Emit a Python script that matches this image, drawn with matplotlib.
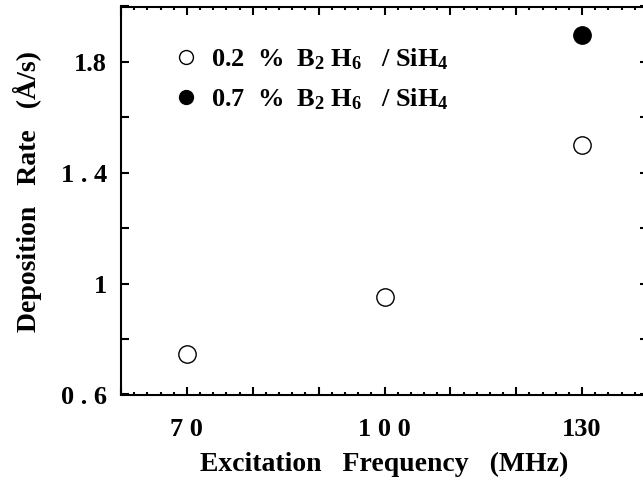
import matplotlib
matplotlib.use('Agg')
import matplotlib.pyplot as plt
from matplotlib.ticker import MultipleLocator

plt.rcParams['font.family'] = 'Liberation Serif'
plt.rcParams['font.weight'] = 'bold'
plt.rcParams['axes.labelweight'] = 'bold'
plt.rcParams['mathtext.default'] = 'regular'

# data
freq_02 = [70, 100, 130]
rate_02 = [0.745, 0.953, 1.50]
freq_07 = [130]
rate_07 = [1.897]

yticks = [0.6, 1.0, 1.4, 1.8]
ytick_labels = ['0 . 6', '1', '1 . 4', '1.8']
xticks = [70, 100, 130]
xtick_labels = ['7 0', '1 0 0', '130']

fig = plt.figure(figsize=(6.43, 4.82), dpi=100)
# right spine sits just past the picture edge, as in the original
ax = fig.add_axes([121/643, 87.5/482, 527/643, 388/482])

ax.plot(freq_02, rate_02, 'o', ms=12.5, mfc='white', mec='black', mew=1,
        label=r'0.2  %  B$_2$ H$_6$   / SiH$_4$')
ax.plot(freq_07, rate_07, 'o', ms=12.5, mfc='black', mec='black', mew=1,
        label=r'0.7  %  B$_2$ H$_6$   / SiH$_4$')

ax.set_xlim(60, 140)
ax.set_ylim(0.6, 2.0)

xt = list(range(60, 141, 10))
ax.set_xticks(xt)
ax.set_xticklabels([xtick_labels[xticks.index(v)] if v in xticks else ''
                    for v in xt])
ax.xaxis.set_minor_locator(MultipleLocator(2))
yt = [0.6, 0.8, 1.0, 1.2, 1.4, 1.6, 1.8, 2.0]
ax.set_yticks(yt)
ylabs = []
for v in yt:
    m = [lab for t, lab in zip(yticks, ytick_labels) if abs(t - v) < 1e-6]
    ylabs.append(m[0] if m else '')
ax.set_yticklabels(ylabs)

ax.tick_params(which='major', direction='in', length=6, width=1.5,
               top=True, right=True, labelsize=19)
ax.tick_params(axis='y', which='major', pad=10)
ax.tick_params(axis='x', which='major', pad=17)
ax.tick_params(axis='x', which='minor', direction='in', length=2.5, width=1.5,
               top=True, bottom=True)
for s in ax.spines.values():
    s.set_linewidth(1.5)

ax.set_xlabel('Excitation   Frequency   (MHz)', fontsize=20, labelpad=8)
ax.set_ylabel('Deposition   Rate   (Å/s)', fontsize=20)
ax.yaxis.set_label_coords(-0.15, 0.524)

ax.legend(loc='upper left', frameon=False, fontsize=19, handletextpad=0.35,
          borderaxespad=0.0, bbox_to_anchor=(0.074, 0.925), labelspacing=0.55,
          markerscale=0.8, handlelength=1.2)

fig.savefig('out.png', dpi=100)
